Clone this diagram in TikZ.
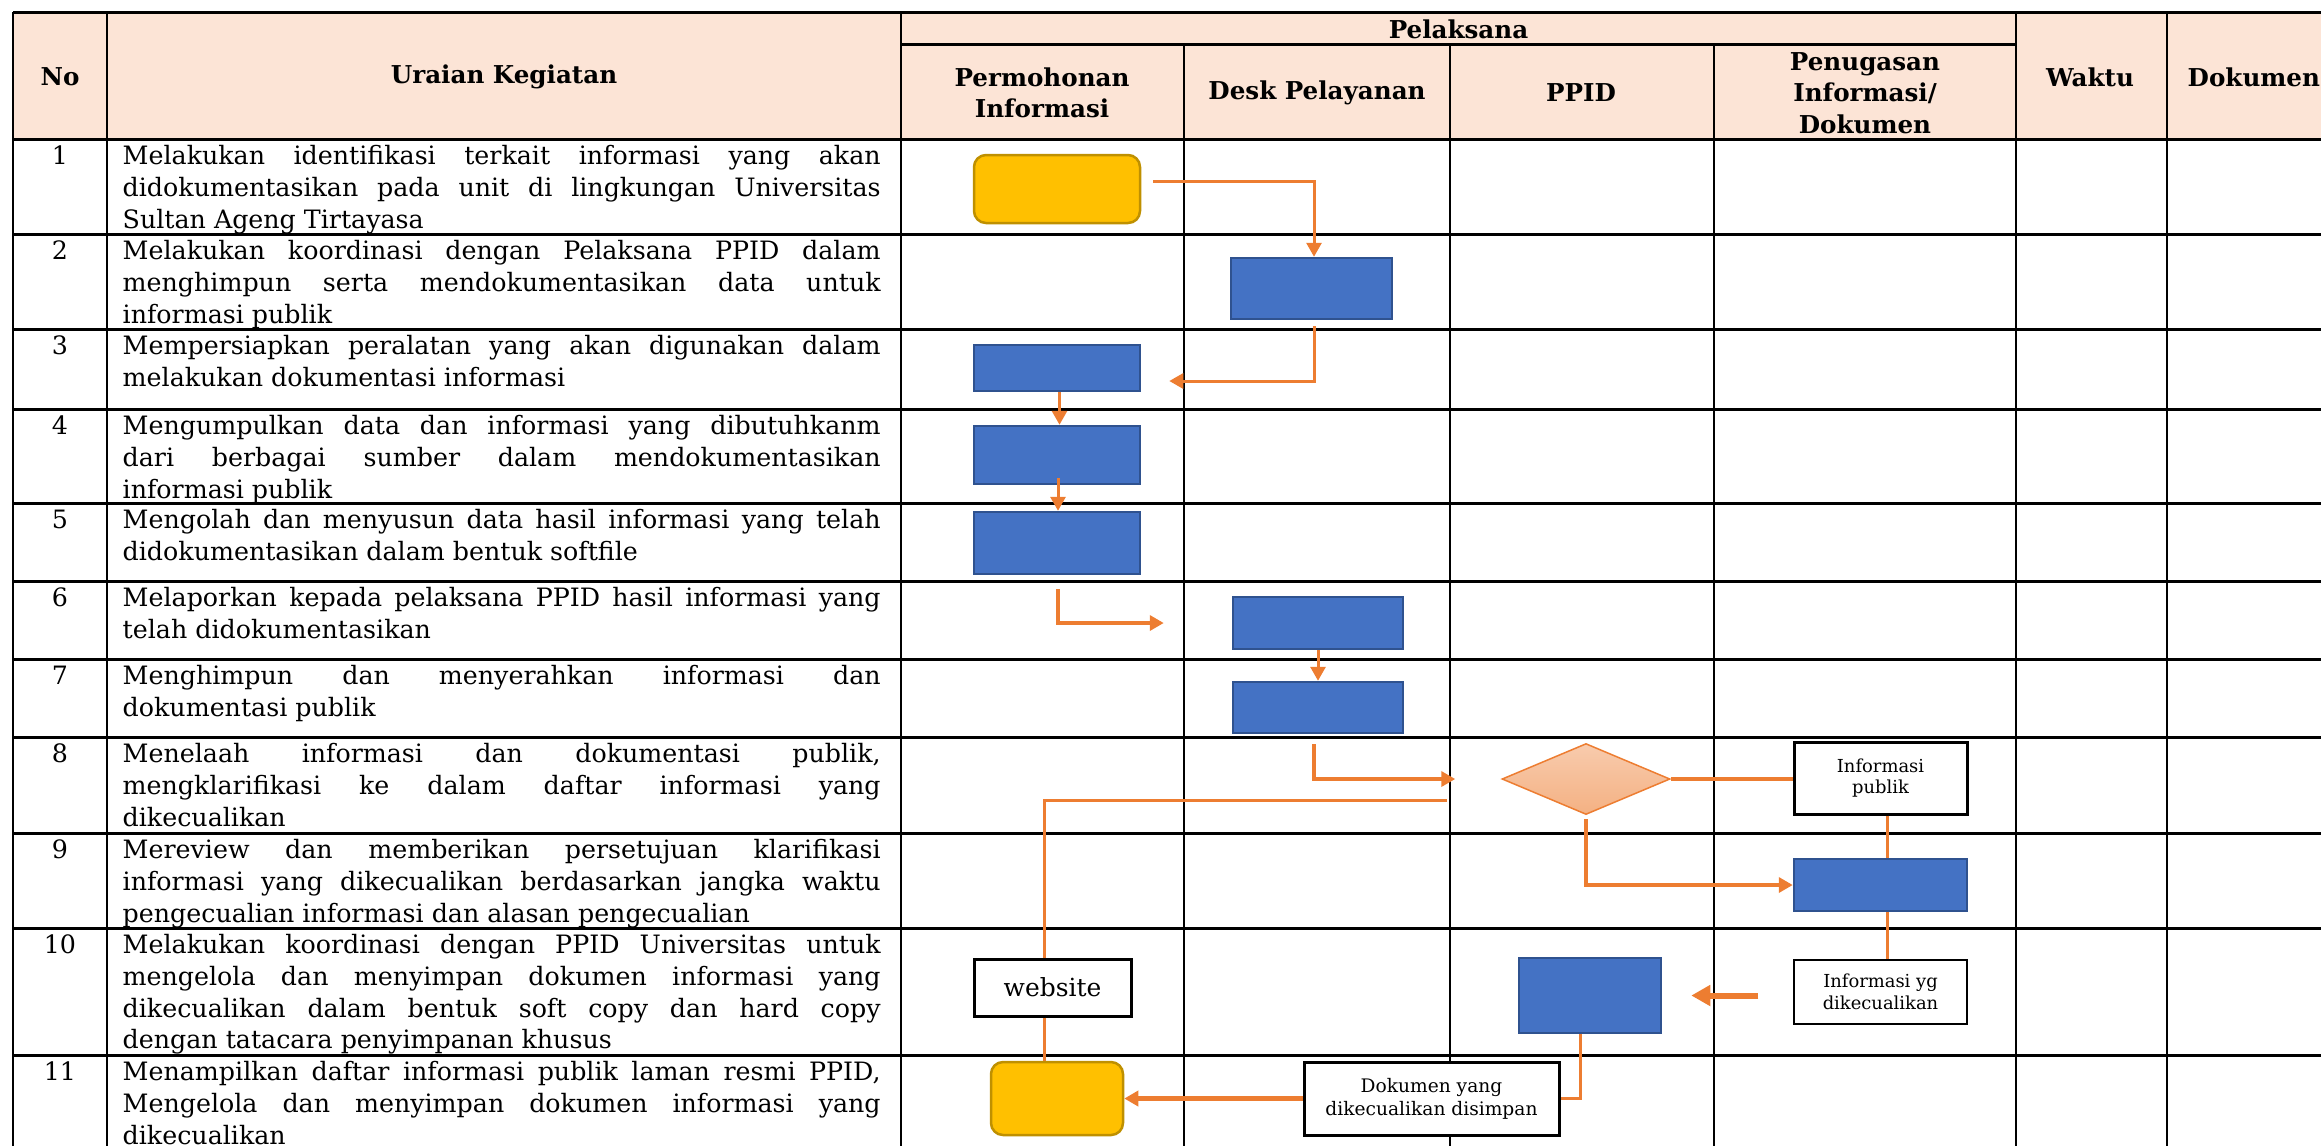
\documentclass[tikz,border=0pt]{standalone}
\usepackage{fontspec}
\setmainfont{DejaVu Serif}
\usetikzlibrary{shapes.geometric,arrows.meta}
\definecolor{hdrfill}{HTML}{FCE4D6}
\definecolor{ylwfill}{HTML}{FFC000}
\definecolor{ylwdraw}{HTML}{BF9000}
\definecolor{bluefill}{HTML}{4472C4}
\definecolor{bluedraw}{HTML}{2F528F}
\definecolor{orng}{HTML}{ED7D31}
\definecolor{diatop}{HTML}{F8CBAD}
\definecolor{diabot}{HTML}{F4B183}

\begin{document}
\begin{tikzpicture}[font=\fontsize{7.2}{9}\selectfont]
\tikzset{
    HL/.style={line width=0.03cm},
    VL/.style={line width=0.025cm},
    HDR/.style={font=\fontsize{7}{9}\selectfont\bfseries, align=center, inner sep=0pt},
    NUM/.style={anchor=north, inner sep=0pt},
    TXT/.style={anchor=north west, text width=7.58cm, align=justify, inner sep=0pt},
    TRM/.style={draw=ylwdraw, fill=ylwfill, line width=0.025cm,
                rounded corners=0.12cm, inner sep=0pt},
    PRC/.style={draw=bluedraw, fill=bluefill, line width=0.025cm, inner sep=0pt},
    DEC/.style={diamond, draw=orng, top color=diatop, bottom color=diabot,
                line width=0.015cm, inner sep=0pt},
    DOC/.style={draw=black, fill=white, line width=0.02cm, align=center,
                inner sep=0pt, font=\fontsize{5.1}{6.2}\selectfont},
    CN/.style={draw=orng, line width=0.03cm},
    CNT/.style={draw=orng, line width=0.045cm},
    TIP/.style={-{Triangle[length=0.14cm,width=0.15cm]}},
}
\useasboundingbox (0,0) rectangle (23.21,-11.45);

% Header background
\fill[hdrfill] (0.13,-0.12) rectangle (23.60,-1.39);

% Table lines
\draw[HL] (0.13,-0.12) -- (23.60,-0.12)
          (9.01,-0.44) -- (20.16,-0.44)
          (0.13,-1.39) -- (23.60,-1.39)
          (0.13,-2.34) -- (23.60,-2.34)
          (0.13,-3.29) -- (23.60,-3.29)
          (0.13,-4.09) -- (23.60,-4.09)
          (0.13,-5.03) -- (23.60,-5.03)
          (0.13,-5.81) -- (23.60,-5.81)
          (0.13,-6.59) -- (23.60,-6.59)
          (0.13,-7.37) -- (23.60,-7.37)
          (0.13,-8.33) -- (23.60,-8.33)
          (0.13,-9.28) -- (23.60,-9.28)
          (0.13,-10.55) -- (23.60,-10.55);
\draw[VL] (0.13,-0.12) -- (0.13,-11.80)
          (1.07,-0.12) -- (1.07,-11.80)
          (9.01,-0.12) -- (9.01,-11.80)
          (11.84,-0.44) -- (11.84,-11.80)
          (14.50,-0.44) -- (14.50,-11.80)
          (17.14,-0.44) -- (17.14,-11.80)
          (20.16,-0.12) -- (20.16,-11.80)
          (21.67,-0.12) -- (21.67,-11.80);

% Column headers
\node[HDR] (hNo) at (0.60,-0.77) {No};
\node[HDR] (hUr) at (5.04,-0.77) {Uraian Kegiatan};
\node[HDR] (hPl) at (14.585,-0.29) {Pelaksana};
\node[HDR] (hPm) at (10.42,-0.93) {Permohonan\\Informasi};
\node[HDR] (hDk) at (13.17,-0.93) {Desk Pelayanan};
\node[HDR] (hPp) at (15.81,-0.93) {PPID};
\node[HDR] (hPg) at (18.65,-0.93) {Penugasan\\Informasi/\\Dokumen};
\node[HDR] (hWk) at (20.90,-0.77) {Waktu};
\node[HDR, anchor=west] (hDo) at (21.87,-0.77) {Dokumen};

%── Uraian kegiatan ─────────────────────────────────────────────
\node[NUM] (n1) at (0.60,-1.42) {\strut 1};
\node[TXT] (u1) at (1.22,-1.42) {\strut Melakukan identifikasi terkait informasi yang akan\linebreak
  didokumentasikan pada unit di lingkungan Universitas\linebreak Sultan Ageng Tirtayasa};
\node[NUM] (n2) at (0.60,-2.37) {\strut 2};
\node[TXT] (u2) at (1.22,-2.37) {\strut Melakukan koordinasi dengan Pelaksana PPID dalam\linebreak
  menghimpun serta mendokumentasikan data untuk\linebreak informasi publik};
\node[NUM] (n3) at (0.60,-3.32) {\strut 3};
\node[TXT] (u3) at (1.22,-3.32) {\strut Mempersiapkan peralatan yang akan digunakan dalam\linebreak
  melakukan dokumentasi informasi};
\node[NUM] (n4) at (0.60,-4.12) {\strut 4};
\node[TXT] (u4) at (1.22,-4.12) {\strut Mengumpulkan data dan informasi yang dibutuhkanm\linebreak
  dari berbagai sumber dalam mendokumentasikan\linebreak informasi publik};
\node[NUM] (n5) at (0.60,-5.06) {\strut 5};
\node[TXT] (u5) at (1.22,-5.06) {\strut Mengolah dan menyusun data hasil informasi yang telah\linebreak
  didokumentasikan dalam bentuk softfile};
\node[NUM] (n6) at (0.60,-5.84) {\strut 6};
\node[TXT] (u6) at (1.22,-5.84) {\strut Melaporkan kepada pelaksana PPID hasil informasi yang\linebreak
  telah didokumentasikan};
\node[NUM] (n7) at (0.60,-6.62) {\strut 7};
\node[TXT] (u7) at (1.22,-6.62) {\strut Menghimpun dan menyerahkan informasi dan\linebreak
  dokumentasi publik};
\node[NUM] (n8) at (0.60,-7.40) {\strut 8};
\node[TXT] (u8) at (1.22,-7.40) {\strut Menelaah informasi dan dokumentasi publik,\linebreak
  mengklarifikasi ke dalam daftar informasi yang\linebreak dikecualikan};
\node[NUM] (n9) at (0.60,-8.36) {\strut 9};
\node[TXT] (u9) at (1.22,-8.36) {\strut Mereview dan memberikan persetujuan klarifikasi\linebreak
  informasi yang dikecualikan berdasarkan jangka waktu\linebreak
  pengecualian informasi dan alasan pengecualian};
\node[NUM] (n10) at (0.60,-9.31) {\strut 10};
\node[TXT] (u10) at (1.22,-9.31) {\strut Melakukan koordinasi dengan PPID Universitas untuk\linebreak
  mengelola dan menyimpan dokumen informasi yang\linebreak
  dikecualikan dalam bentuk soft copy dan hard copy\linebreak
  dengan tatacara penyimpanan khusus};
\node[NUM] (n11) at (0.60,-10.58) {\strut 11};
\node[TXT] (u11) at (1.22,-10.58) {\strut Menampilkan daftar informasi publik laman resmi PPID,\linebreak
  Mengelola dan menyimpan dokumen informasi yang\linebreak dikecualikan};

%── Simbol alur ─────────────────────────────────────────────────
\node[TRM, minimum width=1.66cm, minimum height=0.68cm] (t1) at (10.57,-1.89) {};
\node[PRC, minimum width=1.61cm, minimum height=0.61cm] (p2) at (13.115,-2.885) {};
\node[PRC, minimum width=1.66cm, minimum height=0.46cm] (p3) at (10.57,-3.68) {};
\node[PRC, minimum width=1.66cm, minimum height=0.58cm] (p4) at (10.57,-4.55) {};
\node[PRC, minimum width=1.66cm, minimum height=0.62cm] (p5) at (10.57,-5.43) {};
\node[PRC, minimum width=1.70cm, minimum height=0.52cm] (p6) at (13.18,-6.23) {};
\node[PRC, minimum width=1.70cm, minimum height=0.51cm] (p7) at (13.18,-7.075) {};
\node[DEC, minimum width=1.68cm, minimum height=0.71cm] (d8) at (15.86,-7.79) {};
\node[DOC, minimum width=1.73cm, minimum height=0.72cm, line width=0.03cm] (i8) at (18.805,-7.78) {Informasi\\publik};
\node[PRC, minimum width=1.73cm, minimum height=0.52cm] (p9) at (18.805,-8.85) {};
\node[DOC, minimum width=1.73cm, minimum height=0.64cm, line width=0.015cm] (k10) at (18.805,-9.92) {Informasi yg\\dikecualikan};
\node[PRC, minimum width=1.42cm, minimum height=0.75cm] (p10) at (15.90,-9.955) {};
\node[DOC, minimum width=1.57cm, minimum height=0.57cm, line width=0.03cm,
      font=\fontsize{7.1}{9}\selectfont] (w10) at (10.525,-9.875) {website};
\node[TRM, minimum width=1.32cm, minimum height=0.73cm] (t11) at (10.57,-10.985) {};
\node[DOC, minimum width=2.55cm, minimum height=0.73cm, line width=0.03cm,
      font=\fontsize{5.3}{6.6}\selectfont] (s11) at (14.315,-10.985) {Dokumen yang\\dikecualikan disimpan};

%── Penghubung ──────────────────────────────────────────────────
\draw[CN, TIP] ([xshift=0.12cm, yshift=0.08cm]t1.east) -| ([xshift=0.025cm]p2.north);
\draw[CN, TIP] ([xshift=0.025cm, yshift=-0.06cm]p2.south) |- ([xshift=0.28cm, yshift=-0.13cm]p3.east);
\draw[CN, TIP] ([xshift=0.025cm]p3.south) -- ([xshift=0.025cm]p4.north);
\draw[CN, TIP] ([xshift=0.01cm, yshift=0.07cm]p4.south) -- ([xshift=0.01cm]p5.north);
\draw[CNT, TIP] ([xshift=0.01cm, yshift=-0.14cm]p5.south) |- ([xshift=-0.68cm]p6.west);
\draw[CN, TIP] (p6.south) -- (p7.north);
\draw[CNT, TIP] ([xshift=-0.04cm, yshift=-0.10cm]p7.south) |- ([xshift=-0.46cm]d8.west);
\draw[CNT] (d8.east) -- (d8.east -| i8.west);
\coordinate (r8) at (14.47,-8.00);
\draw[CN] (r8) -| ([xshift=-0.08cm]w10.north);
\draw[CN] ([xshift=-0.08cm]w10.south) -- ([xshift=-0.08cm]w10.south |- t11.north);
\draw[CNT, TIP] ([yshift=-0.04cm]d8.south) |- (p9.west);
\draw[CN] ([xshift=0.065cm]i8.south) -- ([xshift=0.065cm]p9.north);
\draw[CN] ([xshift=0.065cm]p9.south) -- ([xshift=0.065cm]k10.north);
\draw[orng, line width=0.06cm, -{Triangle[length=0.19cm,width=0.20cm]}]
  ([xshift=-0.35cm]k10.west |- p10.east) -- ([xshift=0.29cm]p10.east);
\draw[CN] ([xshift=-0.10cm]p10.south) |- (s11.east);
\draw[CNT, TIP] (s11.west) -- (t11.east);

\end{tikzpicture}
\end{document}
